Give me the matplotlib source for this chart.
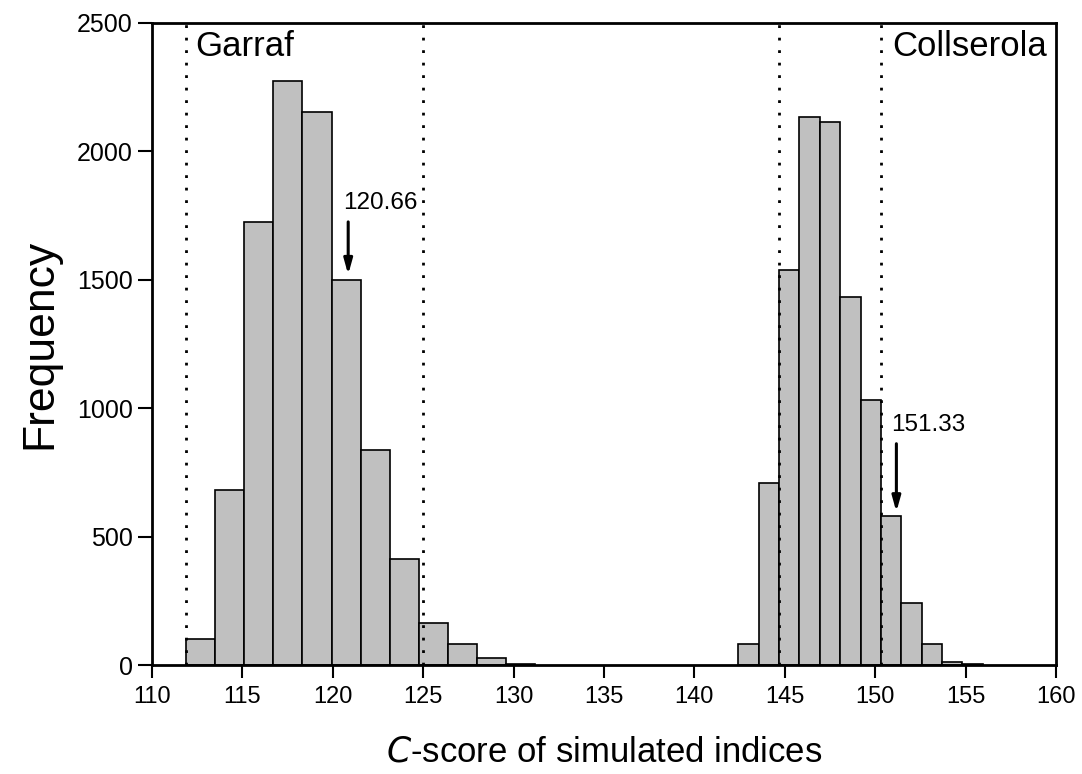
import matplotlib
matplotlib.use('Agg')
import matplotlib.pyplot as plt
import numpy as np

plt.rcParams['font.family'] = ['Liberation Sans', 'DejaVu Sans']

# Garraf: bin edges and counts
garraf_edges = [111.88, 113.49, 115.10, 116.71, 118.32, 119.93, 121.54,
                123.15, 124.76, 126.37, 127.98, 129.59, 131.20]
garraf_counts = [101, 683, 1725, 2274, 2154, 1499, 838, 412, 163, 83, 27, 5]

# Collserola: bin edges and counts
coll_edges = [142.43, 143.56, 144.69, 145.81, 146.94, 148.07, 149.19,
              150.32, 151.45, 152.57, 153.70, 154.82, 155.95]
coll_counts = [83, 710, 1538, 2132, 2112, 1434, 1032, 581, 244, 82, 14, 5]

# dotted interval limits
limits = [111.88, 125.0, 144.69, 150.30]

# observed values (label, arrow x, arrow tip y, arrow tail y)
observed = [("120.66", 120.85, 1520, 1725), ("151.33", 151.17, 597, 862)]

fig = plt.figure(figsize=(10.82, 7.74), dpi=100)
ax = fig.add_axes([0.1405, 0.1404, 0.8355, 0.8303])

bar_style = dict(align='edge', color='#c0c0c0', edgecolor='black', linewidth=1.2)
ax.bar(garraf_edges[:-1], garraf_counts, width=np.diff(garraf_edges), **bar_style)
ax.bar(coll_edges[:-1], coll_counts, width=np.diff(coll_edges), **bar_style)

for x in limits:
    ax.axvline(x, color='black', linestyle=(0, (1, 3.5)), linewidth=2.0, zorder=3)

for label, x, y_tip, y_tail in observed:
    ax.annotate('', xy=(x, y_tip), xytext=(x, y_tail),
                arrowprops=dict(arrowstyle='-|>,head_length=0.9,head_width=0.25',
                                color='black', lw=2.2, shrinkA=0, shrinkB=0))
    ax.text(x - 0.3, y_tail + 30, label, fontsize=17.5, ha='left', va='bottom')

ax.text(112.4, 2470, 'Garraf', fontsize=25, ha='left', va='top')
ax.text(159.5, 2470, 'Collserola', fontsize=25, ha='right', va='top')

ax.set_xlim(110, 160)
ax.set_ylim(0, 2500)
ax.set_xticks(np.arange(110, 161, 5))
ax.set_yticks(np.arange(0, 2501, 500))
ax.tick_params(axis='both', direction='out', width=1.5, top=False, right=False)
ax.tick_params(axis='y', length=10, pad=4, labelsize=18)
ax.tick_params(axis='x', length=9, pad=6, labelsize=17)
for s in ax.spines.values():
    s.set_linewidth(2)

ax.set_xlabel('$C$-score of simulated indices', fontsize=25, labelpad=20)
ax.set_ylabel('Frequency', fontsize=32, labelpad=12)

fig.savefig('out.png', dpi=100)
